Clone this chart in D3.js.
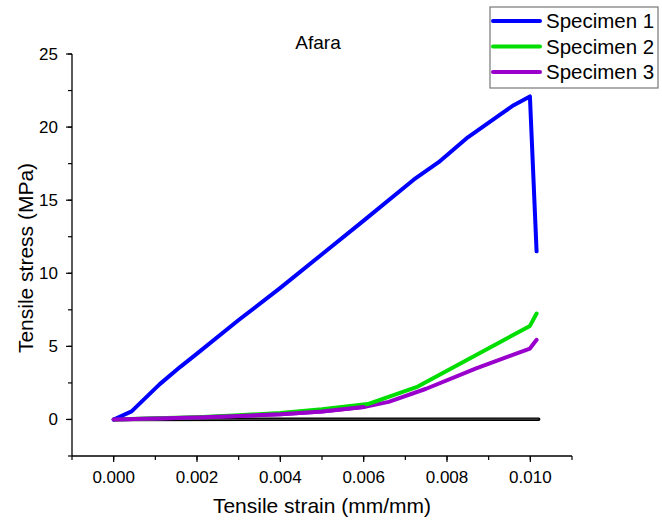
<!DOCTYPE html>
<html>
<head>
<meta charset="utf-8">
<script src="https://cdn.jsdelivr.net/npm/d3@7"></script>
<style>
  body { margin: 0; background: #fff; }
  text { font-family: Arial, "Liberation Sans", sans-serif; fill: #000; }
</style>
</head>
<body>
<svg width="662" height="523"></svg>
<script>
// dati (strain mm/mm, stress MPa)
var specimen1 = [[0,0],[0.00043,0.55],[0.0011,2.4],[0.0016,3.6],[0.002,4.5],[0.003,6.8],
	[0.004,9.0],[0.005,11.3],[0.006,13.6],[0.0072,16.4],[0.0078,17.6],[0.0085,19.3],
	[0.0093,20.9],[0.0096,21.5],[0.00999,22.1],[0.01015,11.5]];
var specimen2 = [[0,0],[0.001,0.08],[0.002,0.15],[0.003,0.28],[0.004,0.45],[0.005,0.7],
	[0.0061,1.05],[0.0073,2.25],[0.0085,4.1],[0.00999,6.4],[0.01015,7.25]];
var specimen3 = [[0,0],[0.001,0.07],[0.002,0.14],[0.003,0.24],[0.004,0.36],[0.005,0.55],
	[0.006,0.85],[0.0066,1.2],[0.0075,2.1],[0.0087,3.5],[0.00999,4.85],[0.01015,5.45]];
var baseline = [[0,0],[0.0102,0.02]];
var names = ["Specimen 1", "Specimen 2", "Specimen 3"];
var colors = ["#0000ff", "#00dd00", "#9900cc"];
var xTicks = [0, 0.002, 0.004, 0.006, 0.008, 0.010];
var yTicks = [0, 5, 10, 15, 20, 25];

var svg = d3.select("svg");
var x = d3.scaleLinear().domain([-0.001, 0.011]).range([72, 572]),
	y = d3.scaleLinear().domain([-2.5, 25]).range([456, 54]);

// assi: tacche principali e secondarie
var xMinor = d3.range(-0.001, 0.0111, 0.001), yMinor = d3.range(-2.5, 25.1, 2.5);

var gx = svg.append("g").attr("transform", "translate(0,456)");
gx.append("line").attr("x1", 72).attr("x2", 572).attr("stroke", "#000").attr("stroke-width", 1.3);
gx.selectAll(".mn").data(xMinor).enter().append("line")
	.attr("x1", d => x(d)).attr("x2", d => x(d)).attr("y1", 0).attr("y2", 4)
	.attr("stroke", "#000").attr("stroke-width", 1.2);
gx.selectAll(".mj").data(xTicks).enter().append("line")
	.attr("x1", d => x(d)).attr("x2", d => x(d)).attr("y1", 0).attr("y2", 6)
	.attr("stroke", "#000").attr("stroke-width", 1.2);
gx.selectAll("text").data(xTicks).enter().append("text")
	.attr("x", d => x(d)).attr("y", 27).attr("text-anchor", "middle")
	.style("font-size", "17px").text(d3.format(".3f"));

var gy = svg.append("g").attr("transform", "translate(72,0)");
gy.append("line").attr("y1", 54).attr("y2", 456).attr("stroke", "#000").attr("stroke-width", 1.3);
gy.selectAll(".mn").data(yMinor).enter().append("line")
	.attr("y1", d => y(d)).attr("y2", d => y(d)).attr("x1", 0).attr("x2", -4)
	.attr("stroke", "#000").attr("stroke-width", 1.2);
gy.selectAll(".mj").data(yTicks).enter().append("line")
	.attr("y1", d => y(d)).attr("y2", d => y(d)).attr("x1", 0).attr("x2", -6)
	.attr("stroke", "#000").attr("stroke-width", 1.2);
gy.selectAll("text").data(yTicks).enter().append("text")
	.attr("x", -14).attr("y", d => y(d) + 6).attr("text-anchor", "end")
	.style("font-size", "17px").text(d => d);

// titoli
svg.append("text").attr("x", 318).attr("y", 49).attr("text-anchor", "middle")
	.style("font-size", "19px").text("Afara");
svg.append("text").attr("x", 322).attr("y", 513).attr("text-anchor", "middle")
	.style("font-size", "21px").text("Tensile strain (mm/mm)");
svg.append("text").attr("transform", "translate(33,258) rotate(-90)").attr("text-anchor", "middle")
	.style("font-size", "21px").text("Tensile stress (MPa)");

// curve
var line = d3.line().x(d => x(d[0])).y(d => y(d[1]));
svg.append("path").datum(baseline).attr("d", line).attr("fill", "none")
	.attr("stroke", "#000").attr("stroke-width", 3.5).attr("stroke-linecap", "round");
svg.append("path").datum(baseline).attr("d", line).attr("fill", "none")
	.attr("stroke", "#fff").attr("stroke-width", 0.6).attr("stroke-opacity", 0.5);
[specimen3, specimen2, specimen1].forEach(function(s, i) {
	svg.append("path").datum(s).attr("d", line).attr("fill", "none")
		.attr("stroke", colors[2 - i]).attr("stroke-width", 4)
		.attr("stroke-linejoin", "round").attr("stroke-linecap", "round");
});
// ri-disegno il viola sopra il verde all'inizio (come nell'originale)
svg.append("path").datum(specimen3.slice(0, 7)).attr("d", line).attr("fill", "none")
	.attr("stroke", colors[2]).attr("stroke-width", 4).attr("stroke-linecap", "round");

// legenda
var lg = svg.append("g");
lg.append("rect").attr("x", 490).attr("y", 7).attr("width", 168).attr("height", 81)
	.attr("fill", "#fff").attr("stroke", "#777").attr("stroke-width", 1.2);
names.forEach(function(n, i) {
	var yy = 21 + i * 25.5;
	lg.append("line").attr("x1", 493).attr("x2", 540).attr("y1", yy).attr("y2", yy)
		.attr("stroke", colors[i]).attr("stroke-width", 4).attr("stroke-linecap", "round");
	lg.append("text").attr("x", 546).attr("y", yy + 7).style("font-size", "20.5px").text(n);
});
</script>
</body>
</html>
